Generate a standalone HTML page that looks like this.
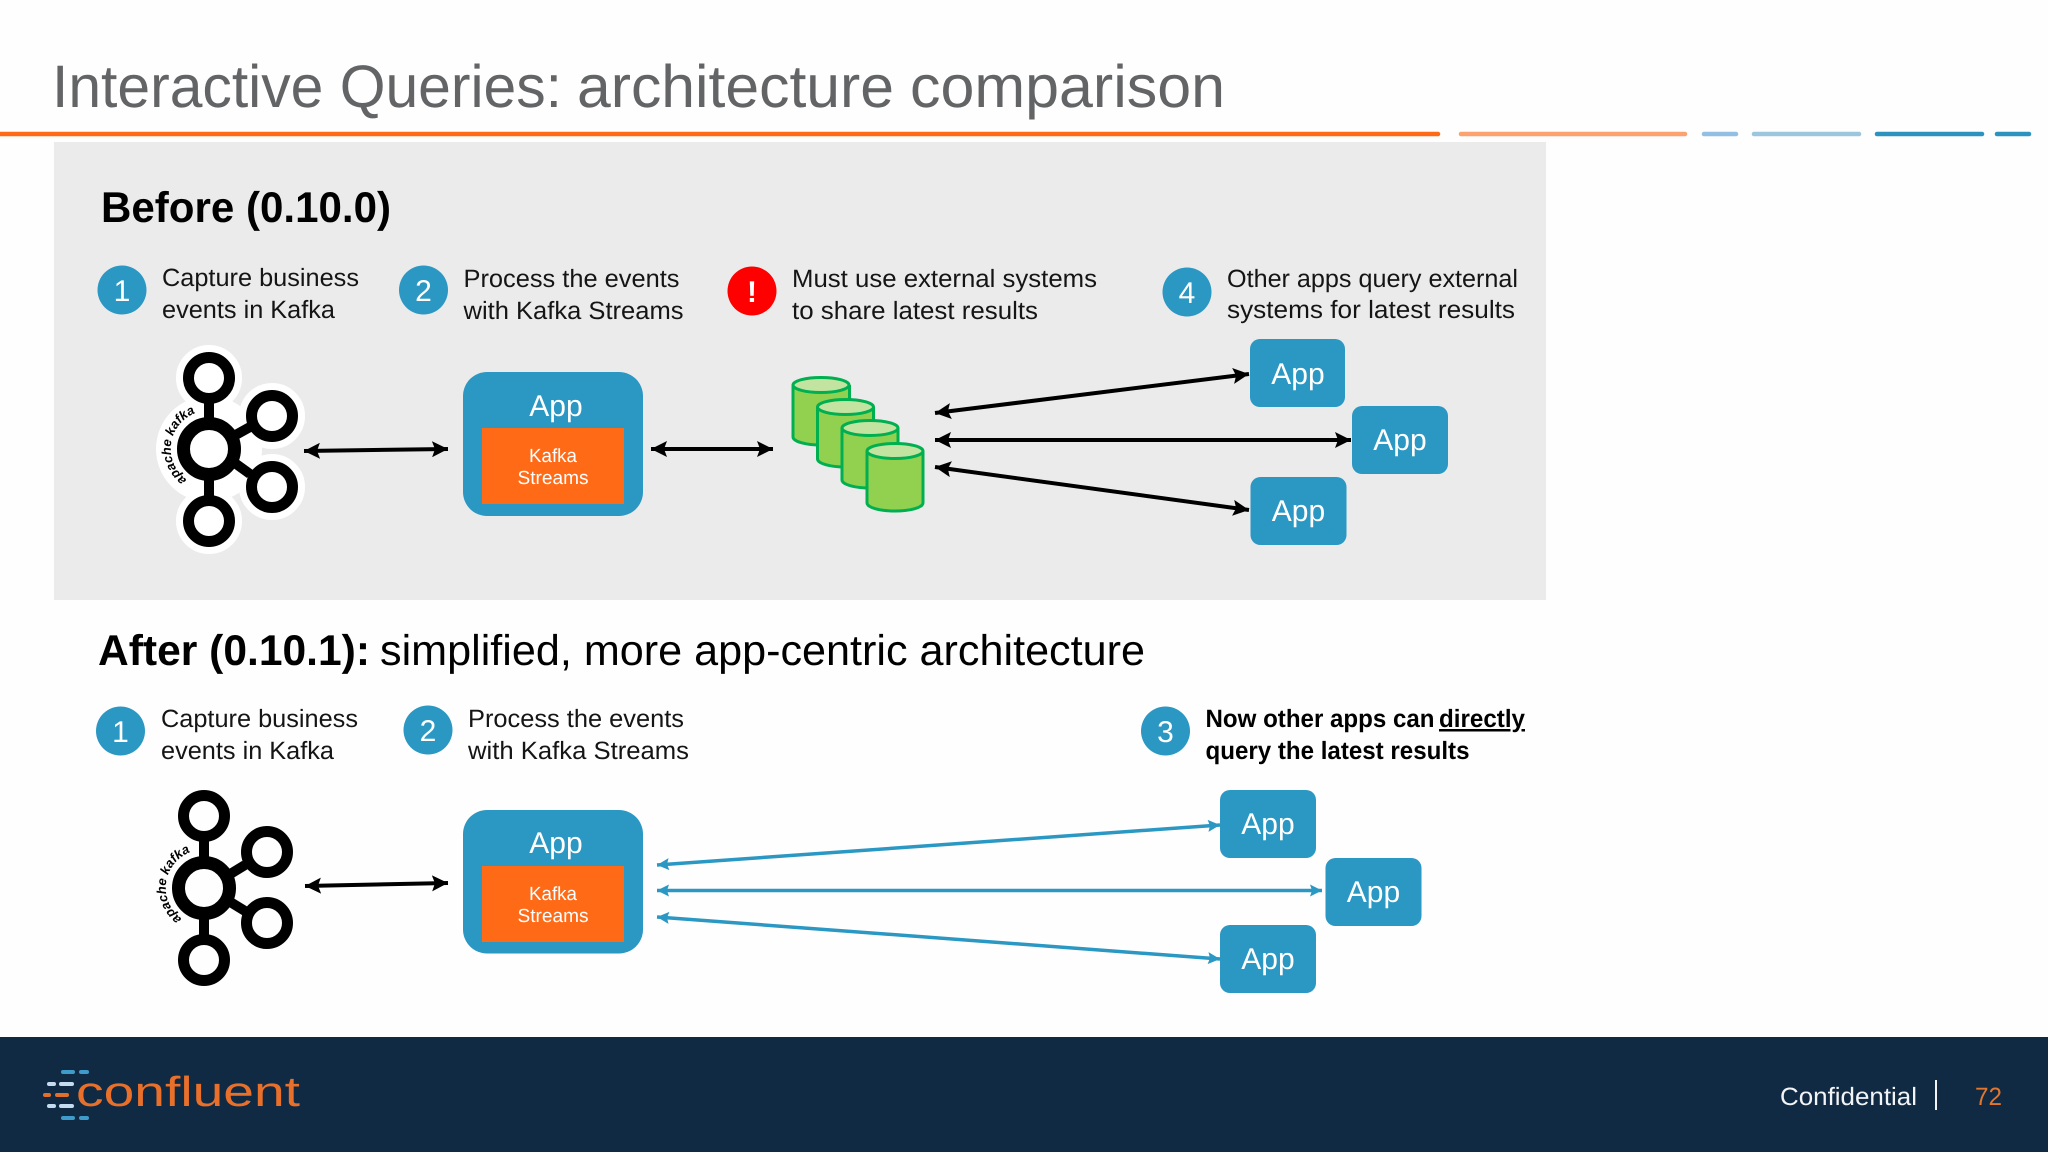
<!DOCTYPE html>
<html><head><meta charset="utf-8"><title>Interactive Queries: architecture comparison</title>
<style>
html,body{margin:0;padding:0;background:#fefefe;width:2048px;height:1152px;overflow:hidden}
svg{display:block;font-family:"Liberation Sans",sans-serif;text-rendering:geometricPrecision}
.l{font-size:25px;fill:#151515}
.b{font-size:25px;fill:#000;font-weight:bold}
.n{font-size:30px;fill:#fff;text-anchor:middle}
.a{font-size:30px;fill:#fff;text-anchor:middle}
.k{font-size:19px;fill:#fff;text-anchor:middle}
.h{font-size:43px;fill:#000}
</style></head><body>
<svg width="2048" height="1152" viewBox="0 0 2048 1152" xmlns="http://www.w3.org/2000/svg">
<defs>
<marker id="ab" markerUnits="userSpaceOnUse" markerWidth="18" markerHeight="16" refX="16" refY="8" orient="auto-start-reverse"><path d="M0 0L16 8L0 16L3 8Z" fill="#000"/></marker>
<marker id="ac" markerUnits="userSpaceOnUse" markerWidth="14" markerHeight="12" refX="12" refY="6" orient="auto-start-reverse"><path d="M0 0L12 6L0 12L2 6Z" fill="#2b97c3"/></marker>
<path id="arc1" d="M186.700 479.600 A38 38 0 0 1 199 412"/>
<path id="arc2" d="M181.700 918.600 A38 38 0 0 1 194 851"/>
</defs>

<g font-size="60" fill="#636466">
<text x="52" y="107" textLength="510" lengthAdjust="spacingAndGlyphs">Interactive Queries:</text>
<text x="577" y="107" textLength="317" lengthAdjust="spacingAndGlyphs">architecture</text>
<text x="910" y="107" textLength="315" lengthAdjust="spacingAndGlyphs">comparison</text>
</g>
<g stroke-width="4.5" stroke-linecap="round">
<line x1="0" y1="134" x2="1438" y2="134" stroke="#ff6a17"/>
<line x1="1461" y1="134" x2="1685" y2="134" stroke="#fba26f"/>
<line x1="1704" y1="134" x2="1736" y2="134" stroke="#93bfe3"/>
<line x1="1754" y1="134" x2="1859" y2="134" stroke="#9cc6de"/>
<line x1="1877" y1="134" x2="1982" y2="134" stroke="#2b93bd"/>
<line x1="1997" y1="134" x2="2029" y2="134" stroke="#2b93bd"/>
</g>

<rect x="54" y="142" width="1492" height="458" fill="#ebebec"/>
<text x="101" y="222" class="h" font-weight="bold" textLength="290" lengthAdjust="spacingAndGlyphs">Before (0.10.0)</text>

<circle cx="122" cy="290" r="24.5" fill="#2b97c3"/><text x="122" y="301" class="n">1</text>
<circle cx="423.500" cy="290" r="24.5" fill="#2b97c3"/><text x="423.500" y="301" class="n">2</text>
<circle cx="752" cy="291" r="24.5" fill="#fe0000"/><text x="752" y="302" class="n" font-weight="bold">!</text>
<circle cx="1187" cy="292" r="24.5" fill="#2b97c3"/><text x="1187" y="303" class="n">4</text>

<text x="162" y="286" class="l" textLength="197" lengthAdjust="spacingAndGlyphs">Capture business</text>
<text x="162" y="318" class="l" textLength="173" lengthAdjust="spacingAndGlyphs">events in Kafka</text>
<text x="463.500" y="287" class="l" textLength="216" lengthAdjust="spacingAndGlyphs">Process the events</text>
<text x="463.500" y="319" class="l" textLength="220" lengthAdjust="spacingAndGlyphs">with Kafka Streams</text>
<text x="792" y="287" class="l" textLength="305" lengthAdjust="spacingAndGlyphs">Must use external systems</text>
<text x="792" y="319" class="l" textLength="246" lengthAdjust="spacingAndGlyphs">to share latest results</text>
<text x="1227" y="287" class="l" textLength="291" lengthAdjust="spacingAndGlyphs">Other apps query external</text>
<text x="1227" y="318" class="l" textLength="288" lengthAdjust="spacingAndGlyphs">systems for latest results</text>

<!-- kafka logo before -->
<g fill="#fff" stroke="#fff" stroke-width="14">
<circle cx="209" cy="378" r="26"/><circle cx="272" cy="416" r="26"/><circle cx="272" cy="487" r="26"/><circle cx="209" cy="521" r="26"/><circle cx="209" cy="449" r="46"/>
</g>
<g fill="#fff" stroke="#000">
<line x1="209" y1="400" x2="209" y2="425" stroke-width="10"/>
<line x1="209" y1="475" x2="209" y2="498" stroke-width="10"/>
<line x1="232" y1="437" x2="250" y2="427" stroke-width="10"/>
<line x1="232" y1="461" x2="250" y2="474" stroke-width="10"/>
<circle cx="209" cy="378" r="20.5" stroke-width="11"/>
<circle cx="272" cy="416" r="20.5" stroke-width="11"/>
<circle cx="272" cy="487" r="20.5" stroke-width="11"/>
<circle cx="209" cy="521" r="20.5" stroke-width="11"/>
<circle cx="209" cy="449" r="25.5" stroke-width="13"/>
</g>
<text font-size="13" font-weight="bold" font-style="italic" fill="#000"><textPath href="#arc1">apache kafka</textPath></text>

<line x1="304" y1="451" x2="448" y2="449" stroke="#000" stroke-width="4" marker-start="url(#ab)" marker-end="url(#ab)"/>

<rect x="463" y="372" width="180" height="144" rx="24" fill="#2b97c3"/>
<rect x="482" y="428" width="142" height="76" fill="#ff6a17"/>
<text x="556" y="416" class="a">App</text>
<text x="553" y="462" class="k" textLength="48" lengthAdjust="spacingAndGlyphs">Kafka</text>
<text x="553" y="484" class="k" textLength="71" lengthAdjust="spacingAndGlyphs">Streams</text>

<line x1="651" y1="449" x2="773" y2="449" stroke="#000" stroke-width="4" marker-start="url(#ab)" marker-end="url(#ab)"/>

<!-- cylinders -->
<g stroke="#00b050" stroke-width="3" fill="#92d050">
<path d="M793 385V437A28 8 0 0 0 849.5 437V385"/><ellipse cx="821" cy="385" rx="28" ry="7.5" fill="#c3e3a0"/>
<path d="M817.500 407V459A28 8 0 0 0 873.500 459V407"/><ellipse cx="845.500" cy="407" rx="28" ry="7.500" fill="#c3e3a0"/>
<path d="M842 428V480A28 8 0 0 0 898 480V428"/><ellipse cx="870" cy="428" rx="28" ry="7.500" fill="#c3e3a0"/>
<path d="M867 451V503A28 8 0 0 0 923 503V451"/><ellipse cx="895" cy="451" rx="28" ry="7.500" fill="#c3e3a0"/>
</g>

<g stroke="#000" stroke-width="4">
<line x1="935" y1="413" x2="1249" y2="374" marker-start="url(#ab)" marker-end="url(#ab)"/>
<line x1="935" y1="440" x2="1351" y2="440" marker-start="url(#ab)" marker-end="url(#ab)"/>
<line x1="935" y1="467" x2="1249" y2="510" marker-start="url(#ab)" marker-end="url(#ab)"/>
</g>

<rect x="1250" y="339" width="95" height="68" rx="10" fill="#2b97c3"/><text x="1298" y="384" class="a">App</text>
<rect x="1352" y="406" width="96" height="68" rx="10" fill="#2b97c3"/><text x="1400" y="450" class="a">App</text>
<rect x="1250.500" y="477" width="96" height="68" rx="10" fill="#2b97c3"/><text x="1298.500" y="521" class="a">App</text>

<!-- After -->
<text x="98" y="665" class="h" font-weight="bold" textLength="272" lengthAdjust="spacingAndGlyphs">After (0.10.1):</text>
<text x="380" y="665" class="h" textLength="765" lengthAdjust="spacingAndGlyphs">simplified, more app-centric architecture</text>

<circle cx="120.500" cy="731" r="24.5" fill="#2b97c3"/><text x="120.500" y="742" class="n">1</text>
<circle cx="428" cy="730" r="24.5" fill="#2b97c3"/><text x="428" y="741" class="n">2</text>
<circle cx="1165.500" cy="731" r="24.5" fill="#2b97c3"/><text x="1165.500" y="742" class="n">3</text>

<text x="161" y="727" class="l" textLength="197" lengthAdjust="spacingAndGlyphs">Capture business</text>
<text x="161" y="759" class="l" textLength="173" lengthAdjust="spacingAndGlyphs">events in Kafka</text>
<text x="468" y="727" class="l" textLength="216" lengthAdjust="spacingAndGlyphs">Process the events</text>
<text x="468" y="759" class="l" textLength="221" lengthAdjust="spacingAndGlyphs">with Kafka Streams</text>
<text x="1205.500" y="727" class="b" textLength="229" lengthAdjust="spacingAndGlyphs">Now other apps can</text>
<text x="1439" y="727" class="b" textLength="86" lengthAdjust="spacingAndGlyphs" text-decoration="underline">directly</text>
<text x="1205.500" y="759" class="b" textLength="264" lengthAdjust="spacingAndGlyphs">query the latest results</text>

<!-- kafka logo after -->
<g fill="#fefefe" stroke="#000">
<line x1="204" y1="839" x2="204" y2="864" stroke-width="10"/>
<line x1="204" y1="914" x2="204" y2="937" stroke-width="10"/>
<line x1="227" y1="876" x2="245" y2="865" stroke-width="10"/>
<line x1="227" y1="900" x2="245" y2="911" stroke-width="10"/>
<circle cx="204" cy="816" r="20.500" stroke-width="11"/>
<circle cx="267" cy="852" r="20.500" stroke-width="11"/>
<circle cx="267" cy="923" r="20.500" stroke-width="11"/>
<circle cx="204" cy="960" r="20.500" stroke-width="11"/>
<circle cx="204" cy="888" r="25.500" stroke-width="13"/>
</g>
<text font-size="13" font-weight="bold" font-style="italic" fill="#000"><textPath href="#arc2">apache kafka</textPath></text>

<line x1="305" y1="886" x2="448" y2="883" stroke="#000" stroke-width="4" marker-start="url(#ab)" marker-end="url(#ab)"/>

<rect x="463" y="810" width="180" height="143.500" rx="24" fill="#2b97c3"/>
<rect x="482" y="866" width="142" height="76" fill="#ff6a17"/>
<text x="556" y="853" class="a">App</text>
<text x="553" y="900" class="k" textLength="48" lengthAdjust="spacingAndGlyphs">Kafka</text>
<text x="553" y="922" class="k" textLength="71" lengthAdjust="spacingAndGlyphs">Streams</text>

<g stroke="#2b97c3" stroke-width="3.500">
<line x1="657" y1="865" x2="1220" y2="825" marker-start="url(#ac)" marker-end="url(#ac)"/>
<line x1="657" y1="890.500" x2="1322" y2="890.500" marker-start="url(#ac)" marker-end="url(#ac)"/>
<line x1="657" y1="917" x2="1220" y2="959" marker-start="url(#ac)" marker-end="url(#ac)"/>
</g>

<rect x="1220" y="790" width="96" height="68" rx="10" fill="#2b97c3"/><text x="1268" y="834" class="a">App</text>
<rect x="1325.500" y="858" width="96" height="68" rx="10" fill="#2b97c3"/><text x="1373.500" y="902" class="a">App</text>
<rect x="1220" y="925" width="96" height="68" rx="10" fill="#2b97c3"/><text x="1268" y="969" class="a">App</text>

<!-- footer -->
<rect x="0" y="1037" width="2048" height="115" fill="#102a43"/>
<g stroke-width="4" stroke-linecap="round">
<g stroke="#3f9bc9">
<line x1="63" y1="1072" x2="73" y2="1072"/><line x1="81" y1="1072" x2="87" y2="1072"/>
<line x1="63" y1="1118" x2="73" y2="1118"/><line x1="81" y1="1118" x2="87" y2="1118"/>
</g>
<g stroke="#c5dcf0">
<line x1="49" y1="1084" x2="54" y2="1084"/><line x1="61" y1="1084" x2="72" y2="1084"/>
<line x1="49" y1="1106" x2="54" y2="1106"/><line x1="61" y1="1106" x2="72" y2="1106"/>
</g>
<g stroke="#e2702a">
<line x1="45" y1="1095" x2="49" y2="1095"/><line x1="57" y1="1095" x2="67" y2="1095"/>
</g>
</g>
<text x="76" y="1106" font-size="42" fill="#e8702a" textLength="224" lengthAdjust="spacingAndGlyphs">confluent</text>
<text x="1780" y="1105" font-size="25" fill="#f2f4f6" textLength="137" lengthAdjust="spacingAndGlyphs">Confidential</text>
<line x1="1936" y1="1080" x2="1936" y2="1110" stroke="#f2f4f6" stroke-width="2"/>
<text x="1975" y="1105" font-size="25" fill="#e2762c" textLength="27" lengthAdjust="spacingAndGlyphs">72</text>
</svg>
</body></html>
